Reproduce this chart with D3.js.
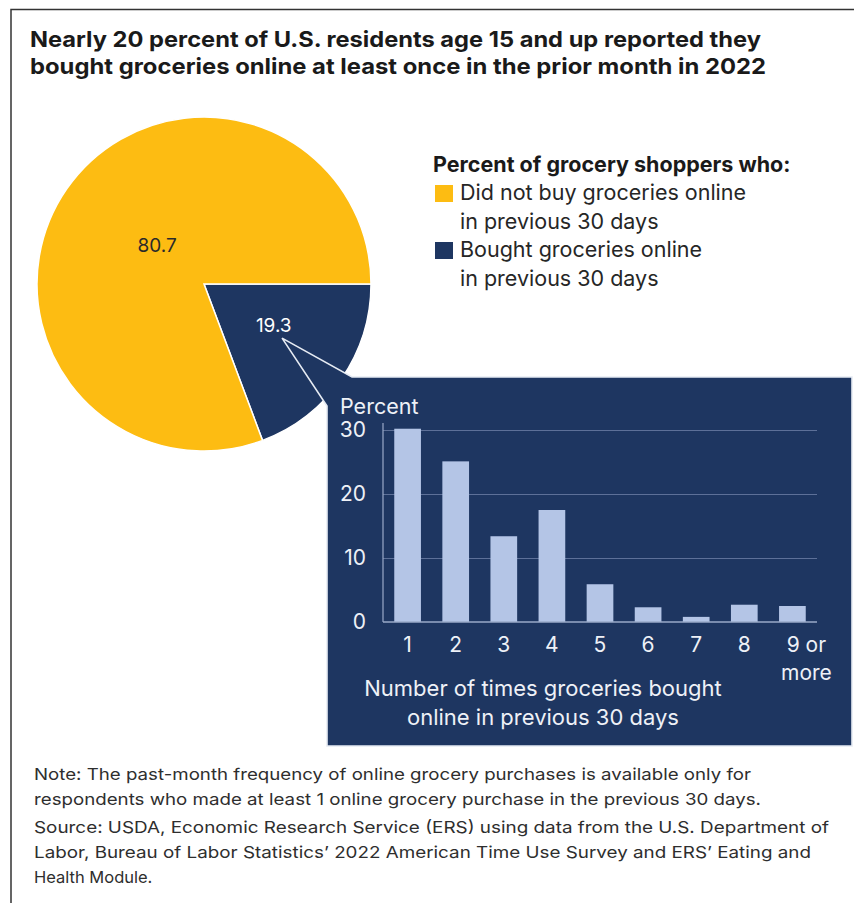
<!DOCTYPE html>
<html>
<head>
<meta charset="utf-8">
<script src="https://cdn.jsdelivr.net/npm/d3@7"></script>
<style>
  body { margin: 0; background: #fff; }
  svg { display: block; font-family: Inter, "Liberation Sans", sans-serif; }
</style>
</head>
<body>
<svg id="chart" width="854" height="903"></svg>
<script>
// pie data
const pieNames = ["Did not buy groceries online", "Bought groceries online"];
const pieValues = [80.7, 19.3];
const pieColors = ["#fdbc12", "#1e3661"];
const legendLines = [
  ["Did not buy groceries online", "in previous 30 days"],
  ["Bought groceries online", "in previous 30 days"]
];

// bar data (number of times bought online)
const freqCats = ["1", "2", "3", "4", "5", "6", "7", "8", "9 or more"];
const freqValues = [30.2, 25.1, 13.4, 17.5, 5.9, 2.3, 0.8, 2.7, 2.5];
const yTicks = [0, 10, 20, 30];

const titleLines = [
  "Nearly 20 percent of U.S. residents age 15 and up reported they",
  "bought groceries online at least once in the prior month in 2022"
];
const noteLines = [
  "Note: The past-month frequency of online grocery purchases is available only for",
  "respondents who made at least 1 online grocery purchase in the previous 30 days.",
  "Source: USDA, Economic Research Service (ERS) using data from the U.S. Department of",
  "Labor, Bureau of Labor Statistics\u2019 2022 American Time Use Survey and ERS\u2019 Eating and",
  "Health Module."
];

const svg = d3.select("#chart");

// frame (top + left rule)
svg.append("path")
  .attr("d", "M11,903 V9.5 H854")
  .attr("fill", "none")
  .attr("stroke", "#333")
  .attr("stroke-width", 1.5);

// title
const titleW = [731, 736];
svg.append("g").selectAll("text")
  .data(titleLines)
  .join("text")
  .attr("x", 30)
  .attr("y", (d, i) => 47 + i * 27)
  .attr("font-size", 22)
  .attr("font-weight", 700)
  .attr("fill", "#1a1a1a")
  .attr("textLength", (d, i) => titleW[i])
  .attr("lengthAdjust", "spacingAndGlyphs")
  .text(d => d);

// ---- pie ----
const cx = 204, cy = 284, r = 167;
const pieG = svg.append("g").attr("transform", `translate(${cx},${cy})`);

// navy slice starts at 3 o'clock, yellow takes the rest
const order = [1, 0];
const pie = d3.pie().sort(null).value(i => pieValues[i])
  .startAngle(Math.PI / 2).endAngle(Math.PI / 2 + 2 * Math.PI);
const arcs = pie(order);
const arc = d3.arc().innerRadius(0).outerRadius(r);

pieG.selectAll("path")
  .data(arcs)
  .join("path")
  .attr("d", arc)
  .attr("fill", d => pieColors[d.data])
  .attr("stroke", "#fff")
  .attr("stroke-width", 1.5);

// callout box + pointer from the navy slice
const navyArc = arcs.find(d => d.data === 1);
const tipArc = d3.arc().innerRadius(95).outerRadius(95);
const tip = tipArc.centroid(navyArc);
const tx = cx + tip[0], ty = cy + tip[1];
const box = { x0: 327, y0: 377, x1: 852, y1: 746 };

svg.append("path")
  .attr("d", `M${tx},${ty} L352,${box.y0} H${box.x1} V${box.y1} H${box.x0} V406 Z`)
  .attr("fill", pieColors[1])
  .attr("stroke", "#e6ebf3")
  .attr("stroke-width", 1.6)
  .attr("stroke-linejoin", "miter");

// pie labels
const labelR = [62, 80];
pieG.selectAll("text.plab")
  .data(arcs)
  .join("text")
  .attr("class", "plab")
  .attr("transform", d => {
    const a = d3.arc().innerRadius(labelR[d.data]).outerRadius(labelR[d.data]);
    const c = a.centroid(d);
    return `translate(${c[0] + 4},${c[1] - 4})`;
  })
  .attr("text-anchor", "middle")
  .attr("dy", "0.36em")
  .attr("font-size", 19)
  .attr("fill", d => d.data === 0 ? "#2a2a2a" : "#fff")
  .text(d => pieValues[d.data].toFixed(1));

// ---- legend ----
const leg = svg.append("g");
leg.append("text")
  .attr("x", 433).attr("y", 172)
  .attr("font-size", 21.5).attr("font-weight", 700).attr("fill", "#1a1a1a")
  .text("Percent of grocery shoppers who:");
legendLines.forEach((lines, i) => {
  const y0 = 200 + i * 57;
  leg.append("rect")
    .attr("x", 435).attr("y", y0 - 15)
    .attr("width", 18).attr("height", 17)
    .attr("fill", pieColors[i]);
  lines.forEach((ln, j) => {
    leg.append("text")
      .attr("x", 460).attr("y", y0 + j * 28.5)
      .attr("font-size", 21.5).attr("fill", "#262626")
      .text(ln);
  });
});

// ---- bar chart inside callout ----
const x = d3.scaleBand()
  .domain(freqCats)
  .range([383, 817])
  .paddingInner(0.445)
  .paddingOuter(0.234);
const y = d3.scaleLinear().domain([0, 30]).range([622, 430]);

const barG = svg.append("g");
const boxText = "#eef1f7";

// gridlines
barG.append("g")
  .attr("transform", "translate(383,0)")
  .call(d3.axisLeft(y).tickValues(yTicks.filter(t => t > 0)).tickSize(-434).tickFormat(""))
  .call(g => g.select(".domain").remove())
  .call(g => g.selectAll("line").attr("stroke", "#5d7098").attr("stroke-width", 1.2));

// bars
barG.selectAll("rect")
  .data(freqValues)
  .join("rect")
  .attr("x", (d, i) => x(freqCats[i]))
  .attr("y", d => y(d))
  .attr("width", x.bandwidth())
  .attr("height", d => y(0) - y(d))
  .attr("fill", "#b4c5e6");

// baseline + vertical axis line
barG.append("line")
  .attr("x1", 383).attr("x2", 817)
  .attr("y1", y(0)).attr("y2", y(0))
  .attr("stroke", "#9aaac8").attr("stroke-width", 1.5);
barG.append("line")
  .attr("x1", 383).attr("x2", 383)
  .attr("y1", y(30) - 7).attr("y2", y(0))
  .attr("stroke", "#9aaac8").attr("stroke-width", 1.2);

// y tick labels
barG.append("g")
  .attr("transform", "translate(383,0)")
  .call(d3.axisLeft(y).tickValues(yTicks).tickSize(0).tickPadding(17))
  .call(g => g.select(".domain").remove())
  .call(g => g.selectAll("text")
    .attr("font-family", "Inter, sans-serif")
    .attr("font-size", 21)
    .attr("fill", boxText));

barG.append("text")
  .attr("x", 340).attr("y", 414)
  .attr("font-size", 21.5).attr("fill", boxText)
  .text("Percent");

// x tick labels
const xAxis = barG.append("g")
  .attr("transform", `translate(0,${y(0)})`)
  .call(d3.axisBottom(x).tickSize(0).tickPadding(15.5))
  .call(g => g.select(".domain").remove());
xAxis.selectAll("text")
  .attr("font-family", "Inter, sans-serif")
  .attr("font-size", 21)
  .attr("fill", boxText)
  .each(function (d) {
    if (d.indexOf(" or ") > 0) {
      const t = d3.select(this);
      const parts = d.split(" or ");
      t.text(null).attr("dy", null);
      t.append("tspan").attr("x", 14).attr("dy", "0.71em").text(parts[0] + " or");
      t.append("tspan").attr("x", 14).attr("dy", "1.33em").text(parts[1]);
    }
  });

// x axis title
barG.append("g").selectAll("text")
  .data(["Number of times groceries bought", "online in previous 30 days"])
  .join("text")
  .attr("x", 543)
  .attr("y", (d, i) => 696 + i * 28.5)
  .attr("text-anchor", "middle")
  .attr("font-size", 22)
  .attr("fill", boxText)
  .text(d => d);

// ---- notes ----
const noteY = [780, 804.5, 833, 858, 883];
const noteW = [717, 727, 795, 777, null];
svg.append("g").selectAll("text")
  .data(noteLines)
  .join("text")
  .attr("x", 34)
  .attr("y", (d, i) => noteY[i])
  .attr("font-size", 16.5)
  .attr("fill", "#2e2e2e")
  .each(function (d, i) {
    if (noteW[i]) d3.select(this).attr("textLength", noteW[i]).attr("lengthAdjust", "spacingAndGlyphs");
  })
  .text(d => d);
</script>
</body>
</html>
